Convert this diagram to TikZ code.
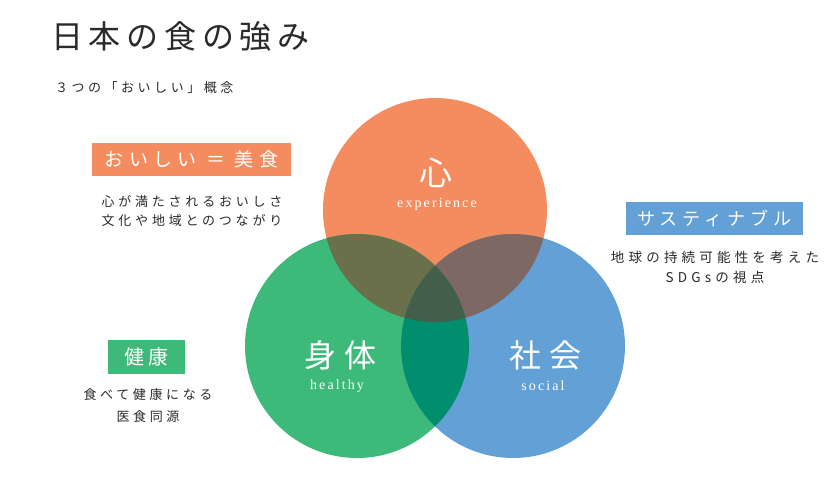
\documentclass[tikz,border=0pt]{standalone}
\usepackage{fontspec}
\setmainfont{Liberation Serif}
\newfontfamily\jp{Noto Sans CJK JP}
\newcommand{\jpls}[2]{\jp\fontsize{#1}{#1}\selectfont\addfontfeature{LetterSpace=#2}}
\newcommand{\enls}[2]{\rmfamily\fontsize{#1}{#1}\selectfont\addfontfeature{LetterSpace=#2}}
\definecolor{cO}{HTML}{F48C5F}
\definecolor{cG}{HTML}{3DB97A}
\definecolor{cB}{HTML}{62A0D6}
\definecolor{cOG}{HTML}{6A7049}
\definecolor{cOB}{HTML}{7E6864}
\definecolor{cGB}{HTML}{008E6F}
\definecolor{cOGB}{HTML}{435E4A}
\definecolor{ink}{HTML}{2A2A2A}
\tikzset{
  circ/.style={circle, minimum size=224pt, inner sep=0pt, draw=none},
  tagbox/.style={text=white, inner sep=0pt, minimum height=33pt, anchor=center},
  bodytext/.style={text=ink, inner sep=0pt, anchor=center},
  circlabel/.style={text=white, inner sep=0pt, anchor=center},
}
\begin{document}
\begin{tikzpicture}[x=1pt,y=-1pt]
\useasboundingbox (0,0) rectangle (828,479);
\fill[white] (0,0) rectangle (828,479);

% title
\node[text=ink, inner sep=0pt, anchor=west] (title) at (51,36) {\jpls{32}{18}日本の食の強み};
\node[text=ink, inner sep=0pt, anchor=west] (subtitle) at (55,88) {\jpls{13}{27}３つの「おいしい」概念};

% circles
\node[circ, fill=cO] (O) at (435,210) {};
\node[circ, fill=cG] (G) at (357,346) {};
\node[circ, fill=cB] (B) at (513,346) {};
\begin{scope}
  \clip (O.center) circle[radius=112pt];
  \fill[cOG] (G.center) circle[radius=112pt];
  \fill[cOB] (B.center) circle[radius=112pt];
\end{scope}
\begin{scope}
  \clip (G.center) circle[radius=112pt];
  \fill[cGB] (B.center) circle[radius=112pt];
  \clip (B.center) circle[radius=112pt];
  \fill[cOGB] (O.center) circle[radius=112pt];
\end{scope}

% circle labels
\node[circlabel] (kokoro) at (436,173) {\jpls{33}{0}心};
\node[circlabel] (exp) at (437,204) {\enls{14}{15}experience};
\node[circlabel] (shintai) at (340,355) {\jpls{32}{25}身体};
\node[circlabel] (healthy) at (337,386) {\enls{14}{15}healthy};
\node[circlabel] (shakai) at (545,355) {\jpls{32}{25}社会};
\node[circlabel] (social) at (543,386) {\enls{14}{15}social};

% orange tag
\node[tagbox, fill=cO, minimum width=199pt] (tagO) at (191.5,159.5) {\jpls{19}{28}おいしい ＝ 美食};
\node[bodytext] (o1) at (192,202) {\jpls{13}{29}心が満たされるおいしさ};
\node[bodytext] (o2) at (192,221) {\jpls{13}{29}文化や地域とのつながり};

% blue tag
\node[tagbox, fill=cB, minimum width=177pt] (tagB) at (714.5,218.5) {\jpls{18}{28}サスティナブル};
\node[bodytext] (b1) at (715,257) {\jpls{13.5}{31}地球の持続可能性を考えた};
\node[bodytext] (b2) at (715,277) {\jpls{13.5}{31}SDGsの視点};

% green tag
\node[tagbox, fill=cG, minimum width=77pt, minimum height=34pt] (tagG) at (146.5,357) {\jpls{20}{20}健康};
\node[bodytext] (g1) at (148,395) {\jpls{13}{28}食べて健康になる};
\node[bodytext] (g2) at (148,417) {\jpls{13}{28}医食同源};
\end{tikzpicture}
\end{document}
